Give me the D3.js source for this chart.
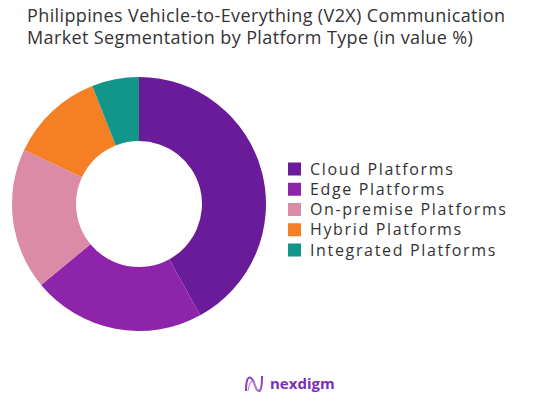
<!DOCTYPE html>
<html><head><meta charset="utf-8">
<script src="https://cdn.jsdelivr.net/npm/d3@7"></script>
<style>body{margin:0;background:#fff;}svg{display:block;}</style>
</head><body>
<script>
const categories = ["Cloud Platforms","Edge Platforms","On-premise Platforms","Hybrid Platforms","Integrated Platforms"];
const values = [42, 22, 18, 12, 6];
const colors = ["#6A1B9A","#8E24AA","#DB8BA5","#F47F24","#13968A"];
const titleLines = ["Philippines Vehicle-to-Everything (V2X) Communication","Market Segmentation by Platform Type (in value %)"];

const W=557,H=403;
const svg=d3.select("body").append("svg").attr("width",W).attr("height",H);
const font="'Open Sans', sans-serif";

function fit(sel, target){
  sel.each(function(){
    const w=this.getComputedTextLength();
    const n=this.textContent.length;
    if(n>1) d3.select(this).attr("letter-spacing",(target-w)/(n-1));
  });
}

const titles=svg.selectAll("text.title").data(titleLines).enter().append("text")
  .attr("class","title")
  .attr("x",27).attr("y",(d,i)=>22+i*22)
  .attr("font-family",font).attr("font-size",18).attr("fill","#333")
  .text(d=>d);
fit(titles.filter((d,i)=>i===0),478);
titles.filter((d,i)=>i===1).attr("letter-spacing",titles.filter((d,i)=>i===0).attr("letter-spacing"));

const cx=139, cy=204, R=127, r=63;
const pie=d3.pie().sort(null).value(d=>d)(values);
const arc=d3.arc().innerRadius(r).outerRadius(R);
svg.append("g").attr("transform",`translate(${cx},${cy})`)
  .selectAll("path").data(pie).enter().append("path")
  .attr("d",arc).attr("fill",(d,i)=>colors[i]);

const y=d3.scalePoint().domain(categories).range([169,250]);
const lg=svg.append("g");
lg.selectAll("rect").data(categories).enter().append("rect")
  .attr("x",288).attr("y",d=>y(d)-6.5).attr("width",13).attr("height",13)
  .attr("fill",(d,i)=>colors[i]);
const lt=lg.selectAll("text").data(categories).enter().append("text")
  .attr("x",310).attr("y",d=>y(d)+5.5)
  .attr("font-family",font).attr("font-size",16).attr("fill","#333")
  .text(d=>d);
fit(lt.filter((d,i)=>i===2),196);
lt.attr("letter-spacing",lt.filter((d,i)=>i===2).attr("letter-spacing"));

// logo
const logo=svg.append("g");
logo.append("path").attr("d","M246,391 C246,380 248,376 251,378 C255,381 255,391 259,391 C262,391 262,380 262,376")
  .attr("fill","none").attr("stroke","#8E3FC0").attr("stroke-width",2);
logo.append("path").attr("d","M248,391 C249,384 251,380 253,382 C256,386 257,393 260,389")
  .attr("fill","none").attr("stroke","#C58BE0").attr("stroke-width",1.2);
logo.append("text").attr("x",270).attr("y",389).attr("font-family",font)
  .attr("font-size",15).attr("font-weight","bold").attr("fill","#7B2FB5").text("nexdigm");
</script>
</body></html>
